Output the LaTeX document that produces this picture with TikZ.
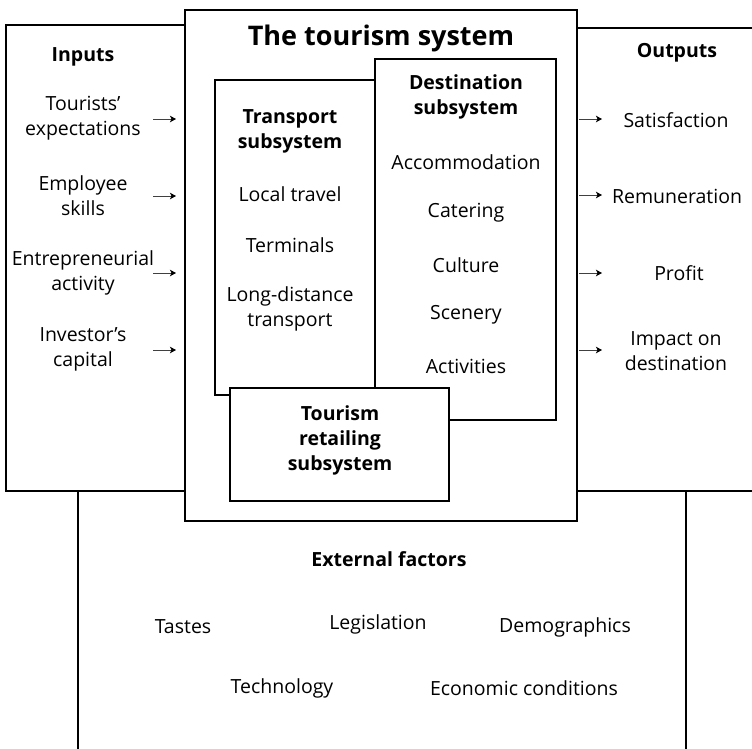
\documentclass[tikz,border=0pt]{standalone}
\usepackage{fontspec}
\setmainfont{Open Sans}
\usetikzlibrary{arrows.meta}
\tikzset{
  box/.style={draw=black,line width=1.2pt,fill=white},
  txt/.style={inner sep=0pt,align=center,font=\fontsize{19.5}{25}\selectfont},
  bold/.style={inner sep=0pt,align=center,font=\fontsize{19.5}{25}\selectfont\bfseries},
  ttl/.style={inner sep=0pt,align=center,font=\fontsize{27}{32}\selectfont\bfseries},
  arr/.style={line width=0.8pt,draw=black!75,-{Stealth[length=6pt,width=6.5pt,inset=1.5pt,color=black]}},
  vline/.style={line width=1.2pt}
}
\begin{document}
\begin{tikzpicture}[x=1pt,y=-1pt]
\useasboundingbox (0,0) rectangle (752,748);
\clip (0,0) rectangle (752,748);
% side boxes
\draw[box] (6,25) rectangle (200,491);
\draw[box] (560,28) rectangle (770,491);
% vertical lines
\coordinate (lt) at (78,491); \coordinate (lb) at (78,760);
\coordinate (rt) at (686,491); \coordinate (rb) at (686,760);
\draw[vline] (lt) -- (lb);
\draw[vline] (rt) -- (rb);
% centre box
\draw[box] (185,10) rectangle (577,521);
\draw[box] (215,80) rectangle (400,395);
\draw[box] (375,59) rectangle (556,420);
\draw[box] (230,388) rectangle (449,501);
% title
\node[ttl] (title) at (381,38) {The tourism system};
% inputs
\node[bold] (inputs) at (83,57) {Inputs};
\node[txt] (in1) at (83,118) {Tourists’\\expectations};
\node[txt] (in2) at (83,196) {Employee\\skills};
\node[txt] (in3) at (83,273) {Entrepreneurial\\activity};
\node[txt] (in4) at (83,349) {Investor’s\\capital};
\foreach \i/\y in {1/119,2/196,3/273,4/350}{
  \coordinate (ia\i) at (153,\y); \coordinate (ib\i) at (176,\y);
  \draw[arr] (ia\i) -- (ib\i);
}
% outputs
\node[bold] (outputs) at (677,53) {Outputs};
\node[txt] (out1) at (676,120) {Satisfaction};
\node[txt] (out2) at (677,196) {Remuneration};
\node[txt] (out3) at (679,273) {Profit};
\node[txt] (out4) at (676,351) {Impact on\\destination};
\foreach \i/\y in {1/119,2/195,3/273,4/350}{
  \coordinate (oa\i) at (579,\y); \coordinate (ob\i) at (602,\y);
  \draw[arr] (oa\i) -- (ob\i);
}
% transport
\node[bold] (tr) at (290,131) {Transport\\subsystem};
\node[txt] (tr1) at (290,194) {Local travel};
\node[txt] (tr2) at (290,245) {Terminals};
\node[txt] (tr3) at (290,309) {Long-distance\\transport};
% destination
\node[bold] (de) at (466,97) {Destination\\subsystem};
\node[txt] (de1) at (466,162) {Accommodation};
\node[txt] (de2) at (466,213) {Catering};
\node[txt] (de3) at (466,265) {Culture};
\node[txt] (de4) at (466,315) {Scenery};
\node[txt] (de5) at (466,366) {Activities};
% retailing
\node[bold] (re) at (340,440) {Tourism\\retailing\\subsystem};
% external
\node[bold] (ex) at (389,559) {External factors};
\node[txt] (ex1) at (183,627) {Tastes};
\node[txt] (ex2) at (378,624) {Legislation};
\node[txt] (ex3) at (565,627) {Demographics};
\node[txt] (ex4) at (282,688) {Technology};
\node[txt] (ex5) at (524,688) {Economic conditions};
\end{tikzpicture}
\end{document}
